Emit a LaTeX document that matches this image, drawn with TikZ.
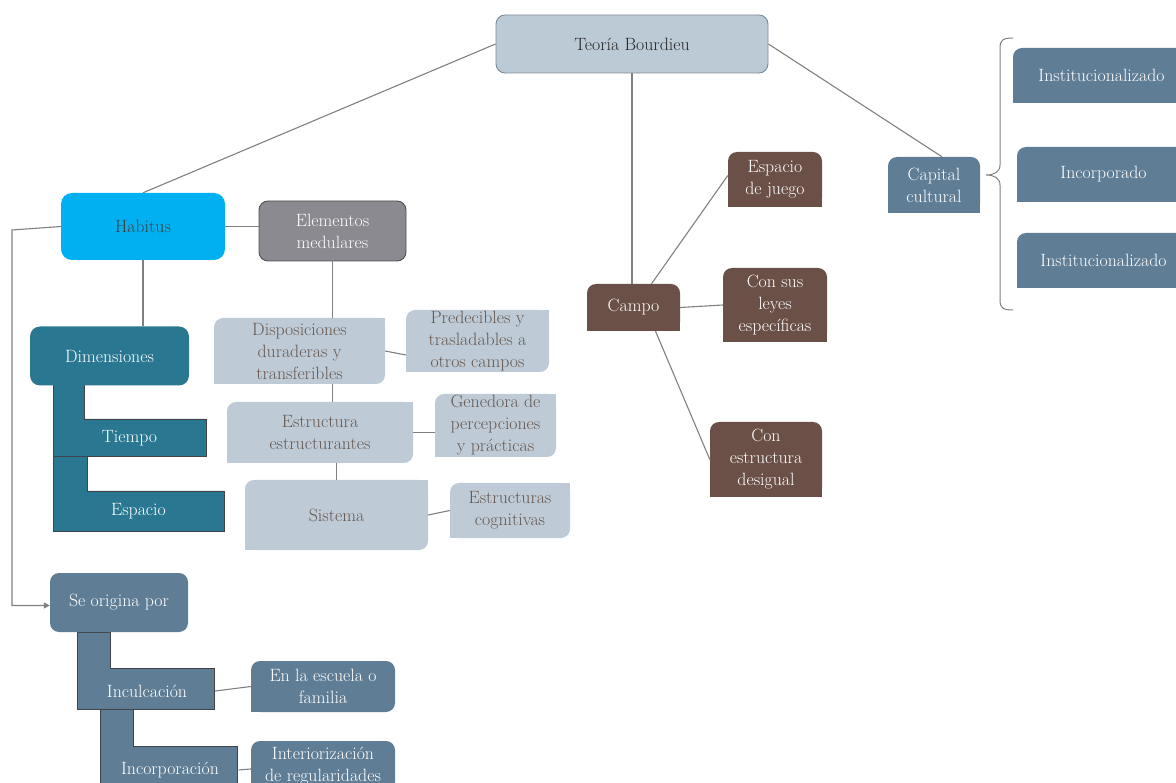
\documentclass[tikz,border=0pt]{standalone}
\usetikzlibrary{arrows.meta,backgrounds,calc}
\definecolor{cLight}{HTML}{BECBD7}
\definecolor{cLightTxt}{HTML}{66574F}
\definecolor{cTeoria}{HTML}{BCCAD6}
\definecolor{cTeoriaB}{HTML}{7E8C98}
\definecolor{cHab}{HTML}{00B0F0}
\definecolor{cElem}{HTML}{8B8A90}
\definecolor{cElemB}{HTML}{505050}
\definecolor{cTeal}{HTML}{2A7791}
\definecolor{cSlate}{HTML}{5F7D95}
\definecolor{cBrown}{HTML}{6B5047}
\definecolor{cLine}{HTML}{808080}
\definecolor{cLB}{HTML}{404448}
\tikzset{
  base/.style={inner sep=1pt, align=center, font=\fontsize{17.8pt}{22pt}\selectfont},
  lightbox/.style={base, fill=cLight, text=cLightTxt, rounded corners=9pt},
  slatebox/.style={base, fill=cSlate, text=white, rounded corners=9pt},
  brownbox/.style={base, fill=cBrown, text=white, rounded corners=9pt},
  tealbox/.style={base, fill=cTeal, text=white, rounded corners=10pt},
  lshape/.style={draw=cLB, line width=0.8pt, fill=#1},
  conn/.style={draw=cLine, line width=1.1pt},
}
\newcommand{\sqc}[3]{\fill[#1] (#2.center) rectangle (#2.#3);}
\begin{document}
\begin{tikzpicture}[x=1pt,y=-1pt]
\useasboundingbox (0,0) rectangle (1176,783);
\clip (0,0) rectangle (1176,783);
% L-shaped blocks
\draw[lshape=cTeal] (53,383) -- (84,383) -- (84,419) -- (206,419) -- (206,456) -- (53,456) -- cycle;
\draw[lshape=cTeal] (53,456) -- (87,456) -- (87,491) -- (224,491) -- (224,531) -- (53,531) -- cycle;
\draw[lshape=cSlate] (77,632) -- (110,632) -- (110,668) -- (214,668) -- (214,709) -- (77,709) -- cycle;
\draw[lshape=cSlate] (100,709) -- (133,709) -- (133,746) -- (237,746) -- (237,800) -- (100,800) -- cycle;
% nodes
\node[base, fill=cTeoria, draw=cTeoriaB, line width=0.9pt, rounded corners=9pt, text=black!85, minimum width=272pt, minimum height=58pt] (teoria) at (632,44) {Teoría Bourdieu};
\node[base, fill=cHab, text=black!75, rounded corners=11pt, minimum width=164pt, minimum height=67pt] (habitus) at (143,226.5) {Habitus};
\node[base, fill=cElem, draw=cElemB, line width=0.9pt, text=white, rounded corners=9pt, minimum width=147pt, minimum height=60pt] (elem) at (332.5,231) {Elementos\\medulares};
\node[tealbox, minimum width=159pt, minimum height=59pt] (dim) at (109.5,356) {Dimensiones};
\node[base, text=white, minimum width=153pt, minimum height=37pt] (tiempo) at (129.5,438) {Tiempo};
\node[base, text=white, minimum width=171pt, minimum height=40pt] (espacio) at (138.5,511) {Espacio};
\node[lightbox, minimum width=171pt, minimum height=66pt] (disp) at (299.5,351) {Disposiciones\\duraderas y\\transferibles};
\node[lightbox, minimum width=143pt, minimum height=62pt] (pred) at (477.5,341) {Predecibles y\\trasladables a\\otros campos};
\node[lightbox, minimum width=186pt, minimum height=61pt] (estr) at (320,432.5) {Estructura\\estructurantes};
\node[lightbox, minimum width=121pt, minimum height=63pt] (gen) at (495.5,425.5) {Genedora de\\percepciones\\y prácticas};
\node[lightbox, minimum width=183pt, minimum height=70pt] (sist) at (336.5,515) {Sistema};
\node[lightbox, minimum width=120pt, minimum height=55pt] (cogn) at (510,510.5) {Estructuras\\cognitivas};
\node[slatebox, minimum width=138pt, minimum height=59pt] (seorig) at (119,602.5) {Se origina por};
\node[base, text=white, minimum width=137pt, minimum height=41pt] (incul) at (147,691) {Inculcación};
\node[base, text=white, minimum width=137pt, minimum height=48pt] (incorp) at (170,770) {Incorporación};
\node[slatebox, minimum width=144pt, minimum height=51pt] (escuela) at (323,686.5) {En la escuela o\\familia};
\node[slatebox, minimum width=144pt, minimum height=50pt] (interior) at (323,766) {Interiorización\\de regularidades};
\node[brownbox, minimum width=93pt, minimum height=47pt] (campo) at (633.5,307.5) {Campo};
\node[brownbox, minimum width=94pt, minimum height=55pt] (juego) at (775,179.5) {Espacio\\de juego};
\node[brownbox, minimum width=104pt, minimum height=74pt] (leyes) at (775,305) {Con sus\\leyes\\específicas};
\node[brownbox, minimum width=112pt, minimum height=75pt] (desig) at (766,459.5) {Con\\estructura\\desigual};
\node[slatebox, minimum width=92pt, minimum height=56pt] (capital) at (934,185) {Capital\\cultural};
\node[slatebox, minimum width=177pt, minimum height=55pt] (inst1) at (1101.5,75.5) {Institucionalizado};
\node[slatebox, minimum width=173pt, minimum height=55pt] (incorpd) at (1103.5,174.5) {Incorporado};
\node[slatebox, minimum width=173pt, minimum height=55pt] (inst2) at (1103.5,260.5) {Institucionalizado};
% sharp corners
\begin{scope}[on background layer]
\foreach \n in {disp,pred,estr,gen,sist,cogn}{\sqc{cLight}{\n}{north east}\sqc{cLight}{\n}{south west}}
\foreach \n in {campo,juego,leyes,desig}{\sqc{cBrown}{\n}{south east}\sqc{cBrown}{\n}{south west}}
\foreach \n in {capital,interior}{\sqc{cSlate}{\n}{south east}\sqc{cSlate}{\n}{south west}}
\sqc{cSlate}{escuela}{south west}
\foreach \n in {inst1,incorpd,inst2}{\sqc{cSlate}{\n}{north east}\sqc{cSlate}{\n}{south east}\sqc{cSlate}{\n}{south west}}
\end{scope}
% connectors
\draw[conn] (teoria.west) -- (habitus.north);
\draw[conn] (teoria.south) -- (teoria.south |- campo.north);
\draw[conn] (teoria.east) -- ([xshift=8pt]capital.north);
\draw[conn] (habitus.east) -- (habitus.east -| elem.west);
\draw[conn] (habitus.south) -- (habitus.south |- dim.north);
\draw[conn] (elem.south) -- (elem.south |- disp.north);
\draw[conn] (elem.south |- disp.south) -- (elem.south |- estr.north);
\draw[conn] (sist.north |- estr.south) -- (sist.north);
\draw[conn] (disp.east) -- ([yshift=-14pt]pred.west);
\draw[conn] (estr.east) -- (estr.east -| gen.west);
\draw[conn] (sist.east) -- (cogn.west);
\draw[conn] ([xshift=18pt]campo.north) -- ([yshift=4pt]juego.west);
\draw[conn] (campo.east) -- (leyes.west);
\draw[conn] ([xshift=22pt]campo.south) -- (desig.west);
\draw[conn] ([xshift=-0.5pt]incul.east) -- (escuela.west);
\draw[conn] (incorp.east) -- ([yshift=-3pt]interior.west);
\coordinate (lc) at (12,230);
\draw[conn, -{Triangle[width=6pt,length=6pt]}] (habitus.west) -- (lc) |- ([yshift=-3pt]seorig.west);
% brace
\coordinate (btip) at (986,175);
\draw[draw=cLine, line width=1pt] (1013,38) .. controls (1003,38) and (1000,40) .. (1000,48) -- (1000,165) .. controls (1000,172) and (994,175) .. (btip) .. controls (994,175) and (1000,178) .. (1000,185) -- (1000,300) .. controls (1000,308) and (1003,310) .. (1013,310);
\end{tikzpicture}
\end{document}
